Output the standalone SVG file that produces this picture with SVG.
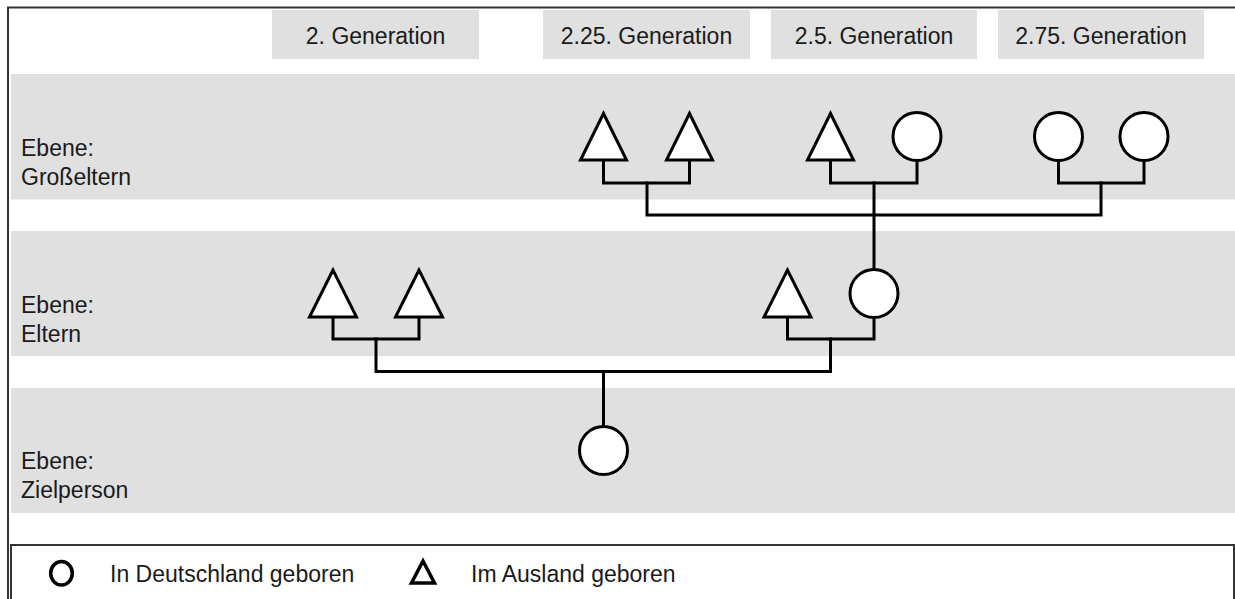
<svg xmlns="http://www.w3.org/2000/svg" width="1235" height="599" viewBox="0 0 1235 599">
<style>
.band{fill:#e0e0e0}
.hdr{fill:#e0e0e0}
.t{font-family:"Liberation Sans",Arial,sans-serif;font-size:23px;fill:#1a1a1a}
.c{text-anchor:middle}
.sym{fill:#fff;stroke:#000;stroke-width:3;stroke-linejoin:miter}
.ln{fill:none;stroke:#000;stroke-width:3;stroke-linejoin:miter;stroke-linecap:square}
.frame{fill:none;stroke:#333;stroke-width:2}
</style>
<rect width="1235" height="599" fill="#fff"/>
<path class="frame" d="M1236,7.5 H8 V600"/>
<g id="headers">
<rect class="hdr" x="272" y="10" width="207" height="49"/>
<rect class="hdr" x="543" y="10" width="207" height="49"/>
<rect class="hdr" x="771" y="10" width="206" height="49"/>
<rect class="hdr" x="998" y="10" width="206" height="49"/>
<text class="t c" x="375.5" y="44">2. Generation</text>
<text class="t c" x="646.5" y="44">2.25. Generation</text>
<text class="t c" x="874" y="44">2.5. Generation</text>
<text class="t c" x="1101" y="44">2.75. Generation</text>
</g>
<g id="bands">
<rect class="band" x="11" y="74" width="1224" height="125.5"/>
<rect class="band" x="11" y="231" width="1224" height="125"/>
<rect class="band" x="11" y="388" width="1224" height="125"/>
<text class="t" x="21" y="156">Ebene:</text>
<text class="t" x="21" y="185">Großeltern</text>
<text class="t" x="21" y="313">Ebene:</text>
<text class="t" x="21" y="342">Eltern</text>
<text class="t" x="21" y="469">Ebene:</text>
<text class="t" x="21" y="498">Zielperson</text>
</g>
<g id="connectors">
<path class="ln" d="M603.5,160 V183 H689.5 V160"/>
<path class="ln" d="M830.5,160 V183 H917 V160"/>
<path class="ln" d="M1058.5,160 V183 H1144 V160"/>
<path class="ln" d="M647,183 V215 H1101 V183"/>
<path class="ln" d="M874,183 V269.5"/>
<path class="ln" d="M333,317 V339 H419 V317"/>
<path class="ln" d="M787.5,317 V339 H874 V317"/>
<path class="ln" d="M376,339 V371.5 H830.5 V339"/>
<path class="ln" d="M603.5,371.5 V426.5"/>
</g>
<g id="gp1"><polygon class="sym" points="603.5,113.5 580.5,160 626.5,160"/></g>
<g id="gp2"><polygon class="sym" points="689.5,113.5 666.5,160 712.5,160"/></g>
<g id="gp3"><polygon class="sym" points="830.5,113.5 807.5,160 853.5,160"/></g>
<g id="gp4"><circle class="sym" cx="917" cy="136.5" r="24"/></g>
<g id="gp5"><circle class="sym" cx="1058.5" cy="136.5" r="24"/></g>
<g id="gp6"><circle class="sym" cx="1144" cy="136.5" r="24"/></g>
<g id="p1"><polygon class="sym" points="333,270 309.5,317 356.5,317"/></g>
<g id="p2"><polygon class="sym" points="419,270 395.5,317 442.5,317"/></g>
<g id="p3"><polygon class="sym" points="787.5,270 764,317 811,317"/></g>
<g id="p4"><circle class="sym" cx="874" cy="293.5" r="24"/></g>
<g id="target"><circle class="sym" cx="603.5" cy="450.5" r="24"/></g>
<g id="legend">
<rect class="frame" x="11" y="545" width="1223" height="55"/>
<ellipse cx="61.5" cy="573.3" rx="10.8" ry="11.7" fill="none" stroke="#000" stroke-width="3.5"/>
<text class="t" x="110" y="582">In Deutschland geboren</text>
<polygon points="423,561 411.5,583 434.5,583" fill="none" stroke="#000" stroke-width="3.5" stroke-linejoin="miter"/>
<text class="t" x="471" y="582">Im Ausland geboren</text>
</g>
</svg>
